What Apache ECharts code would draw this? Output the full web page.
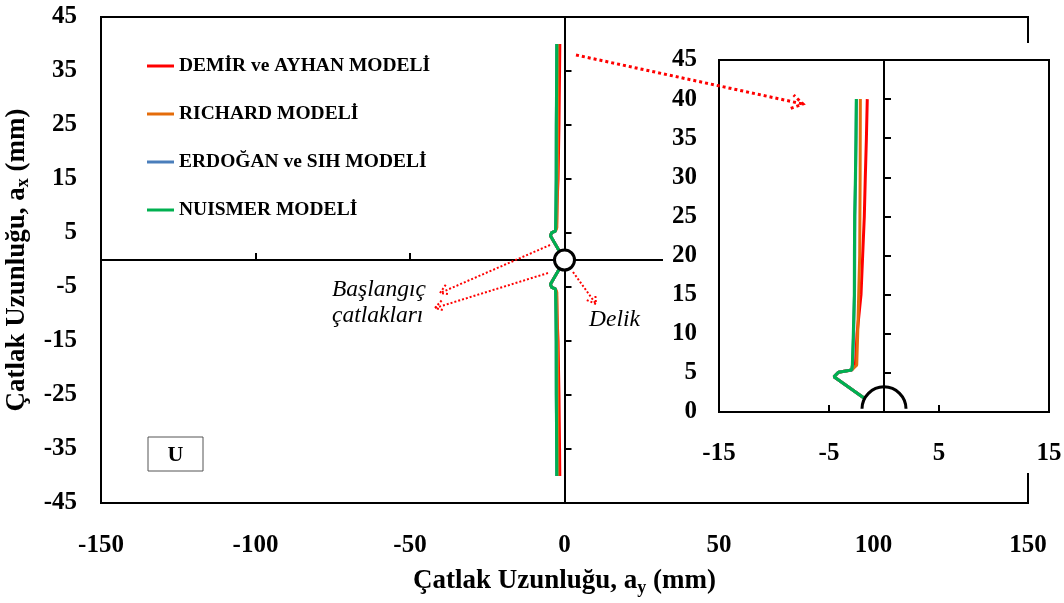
<!DOCTYPE html>
<html><head><meta charset="utf-8">
<script src="https://cdn.jsdelivr.net/npm/echarts@6/dist/echarts.min.js"></script>
<style>html,body{margin:0;padding:0;background:#fff}#c{width:1064px;height:603px}</style>
</head><body><div id="c"></div>
<script>
// ---------- DATA ----------
const seriesNames = ['DEMİR ve AYHAN MODELİ', 'RICHARD MODELİ', 'ERDOĞAN ve SIH MODELİ', 'NUISMER MODELİ'];
const seriesColors = ['#FF0000', '#E46C0A', '#4A7EBB', '#00B050'];

// crack length a_x (mm), upper crack (from hole upward)
const axUpper = [1.75, 4.5, 5.07, 5.37, 6, 10, 15, 20, 25, 30, 35, 40];
// crack length a_x (mm), lower crack (from hole downward)
const axLower = [-1.75, -4.5, -5.07, -5.37, -6, -10, -15, -20, -25, -30, -35, -40];

// a_y (mm) for each model, upper crack
const ayDemirUpper    = [-1.79, -4.55, -4.15, -2.94, -2.60, -2.45, -2.09, -1.94, -1.79, -1.70, -1.60, -1.52];
const ayRichardUpper  = [-1.79, -4.55, -4.15, -2.94, -2.48, -2.39, -2.30, -2.21, -2.19, -2.17, -2.16, -2.15];
const ayErdoganUpper  = [-1.79, -4.55, -4.15, -2.94, -2.86, -2.76, -2.68, -2.66, -2.64, -2.58, -2.54, -2.50];
const ayNuismerUpper  = [-1.79, -4.55, -4.15, -2.94, -2.88, -2.79, -2.70, -2.69, -2.67, -2.60, -2.55, -2.52];
// a_y (mm) for each model, lower crack
const ayDemirLower    = [-1.79, -4.55, -4.15, -2.94, -2.60, -2.45, -2.09, -1.94, -1.79, -1.70, -1.60, -1.52];
const ayRichardLower  = [-1.79, -4.55, -4.15, -2.94, -2.48, -2.39, -2.30, -2.21, -2.19, -2.17, -2.16, -2.15];
const ayErdoganLower  = [-1.79, -4.55, -4.15, -2.94, -2.86, -2.76, -2.68, -2.66, -2.64, -2.58, -2.54, -2.50];
const ayNuismerLower  = [-1.79, -4.55, -4.15, -2.94, -2.88, -2.79, -2.70, -2.69, -2.67, -2.60, -2.55, -2.52];

const holeMain = [0, 0];
const holeInset = [0, 0.4];

// tick label values
const mainXTicks = [-150, -100, -50, 0, 50, 100, 150];
const mainYLabels = [-45, -35, -25, -15, -5, 5, 15, 25, 35, 45];
const insetXLabels = [-15, -5, 5, 15];
const insetXTicks = [-5, 5];
const insetYLabels = [0, 5, 10, 15, 20, 25, 30, 35, 40, 45];

// ---------- CHART ----------
const FONT = "'Liberation Serif','Times New Roman',serif";
const upperSets = [ayDemirUpper, ayRichardUpper, ayErdoganUpper, ayNuismerUpper];
const lowerSets = [ayDemirLower, ayRichardLower, ayErdoganLower, ayNuismerLower];
function pairs(xs, ys) { return xs.map((x, i) => [x, ys[i]]); }

const series = [];
seriesNames.forEach((name, i) => {
  const common = { type: 'line', name, symbol: 'none', showSymbol: false, color: seriesColors[i],
    lineStyle: { width: 3, color: seriesColors[i] }, animation: false, silent: true };
  series.push(Object.assign({}, common, { xAxisIndex: 0, yAxisIndex: 0, z: 2, data: pairs(upperSets[i], axUpper) }));
  series.push(Object.assign({}, common, { xAxisIndex: 0, yAxisIndex: 0, z: 2, data: pairs(lowerSets[i], axLower) }));
  series.push(Object.assign({}, common, { xAxisIndex: 2, yAxisIndex: 2, z: 22, data: pairs(upperSets[i], axUpper) }));
});
series.push({ type: 'scatter', xAxisIndex: 0, yAxisIndex: 0, data: [holeMain], symbol: 'circle', symbolSize: 20,
  itemStyle: { color: '#fff', borderColor: '#000', borderWidth: 3, opacity: 1 }, z: 5, silent: true, animation: false });
series.push({ type: 'custom', xAxisIndex: 2, yAxisIndex: 2, data: [holeInset], z: 23, silent: true, animation: false,
  renderItem: function (params, api) {
    const p = api.coord([api.value(0), api.value(1)]);
    return { type: 'arc', shape: { cx: p[0], cy: p[1], r: 22, startAngle: Math.PI, endAngle: Math.PI * 2 },
      style: { stroke: '#000', lineWidth: 3, fill: null } };
  } });

const labelStyle = { fontFamily: FONT, fontWeight: 'bold', fontSize: 25, color: '#000' };
const nameStyle = {
  fontFamily: FONT, fontWeight: 'bold', fontSize: 27, color: '#000',
  rich: {
    b: { fontFamily: FONT, fontWeight: 'bold', fontSize: 27, color: '#000' },
    s: { fontFamily: FONT, fontWeight: 'bold', fontSize: 18, color: '#000', padding: [13, 0, 0, 0] }
  }
};
const blackLine = { color: '#000', width: 2 };

function arrow(x1, y1, x2, y2, w, dash, head) {
  const a = Math.atan2(y2 - y1, x2 - x1);
  const sp = 0.55;
  const p1 = [x2 - head * Math.cos(a - sp), y2 - head * Math.sin(a - sp)];
  const p2 = [x2 - head * Math.cos(a + sp), y2 - head * Math.sin(a + sp)];
  const st = { stroke: '#FF0000', lineWidth: w, lineDash: dash, fill: null };
  return [
    { type: 'line', z: 30, silent: true, shape: { x1, y1, x2, y2 }, style: st },
    { type: 'polyline', z: 30, silent: true, shape: { points: [p1, [x2, y2], p2] }, style: st }
  ];
}
function txt(x, y, text, font, align) {
  return { type: 'text', z: 31, silent: true, x, y,
    style: { text, font, fill: '#000', textAlign: align || 'left', textVerticalAlign: 'middle', align: align || 'left', verticalAlign: 'middle' } };
}

const graphic = [
  { type: 'rect', z: 10, silent: true, shape: { x: 663, y: 43, width: 401, height: 430 }, style: { fill: '#fff' } },
  { type: 'rect', z: 11, silent: true, shape: { x: 148, y: 437, width: 55, height: 34 }, style: { fill: '#fff', stroke: '#555', lineWidth: 1 } },
  txt(175.5, 455, 'U', 'bold 22px ' + FONT, 'center'),
  txt(332, 290, 'Başlangıç', 'italic 23.5px ' + FONT),
  txt(332, 316, 'çatlakları', 'italic 23.5px ' + FONT),
  txt(589, 320, 'Delik', 'italic 23.5px ' + FONT)
].concat(
  arrow(576, 55, 803, 104, 3, [3, 3], 13),
  arrow(550, 245, 440, 293, 2, [2, 2], 10),
  arrow(548, 273, 435, 308, 2, [2, 2], 10),
  arrow(573, 272, 596, 304, 2, [2, 2], 10)
);

const option = {
  animation: false,
  backgroundColor: '#fff',
  grid: [
    { left: 101, top: 17, width: 927, height: 486, show: true, borderColor: '#000', borderWidth: 2, backgroundColor: 'transparent', outerBoundsMode: 'none', containLabel: false },
    { left: 719, top: 60, width: 330, height: 352, show: true, borderColor: '#000', borderWidth: 2, backgroundColor: '#fff', z: 20, outerBoundsMode: 'none', containLabel: false }
  ],
  legend: {
    orient: 'vertical', left: 142, top: 50, itemWidth: 27, itemHeight: 3, itemGap: 26,
    icon: 'rect', selectedMode: false, data: seriesNames,
    textStyle: { fontFamily: FONT, fontWeight: 'bold', fontSize: 19.5, color: '#000', lineHeight: 22 }
  },
  xAxis: [
    { gridIndex: 0, type: 'value', min: -150, max: 150, interval: 50, position: 'bottom',
      axisLine: { show: false, onZero: false }, axisTick: { show: false }, splitLine: { show: false },
      axisLabel: Object.assign({ margin: 30, customValues: mainXTicks }, labelStyle),
      name: '{b|Çatlak Uzunluğu, a}{s|y}{b| (mm)}', nameLocation: 'middle', nameGap: 63, nameTextStyle: nameStyle },
    { gridIndex: 0, type: 'value', min: -150, max: 150, interval: 50, position: 'top',
      axisLine: { show: true, onZero: true, onZeroAxisIndex: 0, lineStyle: blackLine },
      axisTick: { show: true, inside: false, length: 7, lineStyle: blackLine, customValues: mainXTicks },
      axisLabel: { show: false }, splitLine: { show: false } },
    { gridIndex: 1, type: 'value', min: -15, max: 15, position: 'bottom', z: 20,
      axisLine: { show: false, onZero: false },
      axisTick: { show: true, inside: true, length: 7, lineStyle: blackLine, customValues: insetXTicks },
      axisLabel: Object.assign({ margin: 29, customValues: insetXLabels }, labelStyle), splitLine: { show: false } }
  ],
  yAxis: [
    { gridIndex: 0, type: 'value', min: -45, max: 45, position: 'left',
      axisLine: { show: false, onZero: false }, axisTick: { show: false }, splitLine: { show: false },
      axisLabel: Object.assign({ margin: 24, customValues: mainYLabels }, labelStyle),
      name: '{b|Çatlak Uzunluğu, a}{s|x}{b| (mm)}', nameLocation: 'middle', nameGap: 66, nameTextStyle: nameStyle },
    { gridIndex: 0, type: 'value', min: -45, max: 45, position: 'right',
      axisLine: { show: true, onZero: true, onZeroAxisIndex: 0, lineStyle: blackLine },
      axisTick: { show: true, inside: false, length: 7, lineStyle: blackLine, customValues: mainYLabels },
      axisLabel: { show: false }, splitLine: { show: false } },
    { gridIndex: 1, type: 'value', min: 0, max: 45, interval: 5, position: 'left', z: 20,
      axisLine: { show: false, onZero: false }, axisTick: { show: false }, splitLine: { show: false },
      axisLabel: Object.assign({ margin: 22, customValues: insetYLabels }, labelStyle) },
    { gridIndex: 1, type: 'value', min: 0, max: 45, interval: 5, position: 'right', z: 20,
      axisLine: { show: true, onZero: true, onZeroAxisIndex: 2, lineStyle: blackLine },
      axisTick: { show: true, inside: false, length: 7, lineStyle: blackLine },
      axisLabel: { show: false }, splitLine: { show: false } }
  ],
  series,
  graphic: { elements: graphic }
};
const chart = echarts.init(document.getElementById('c'));
chart.setOption(option);
</script>
</body></html>
